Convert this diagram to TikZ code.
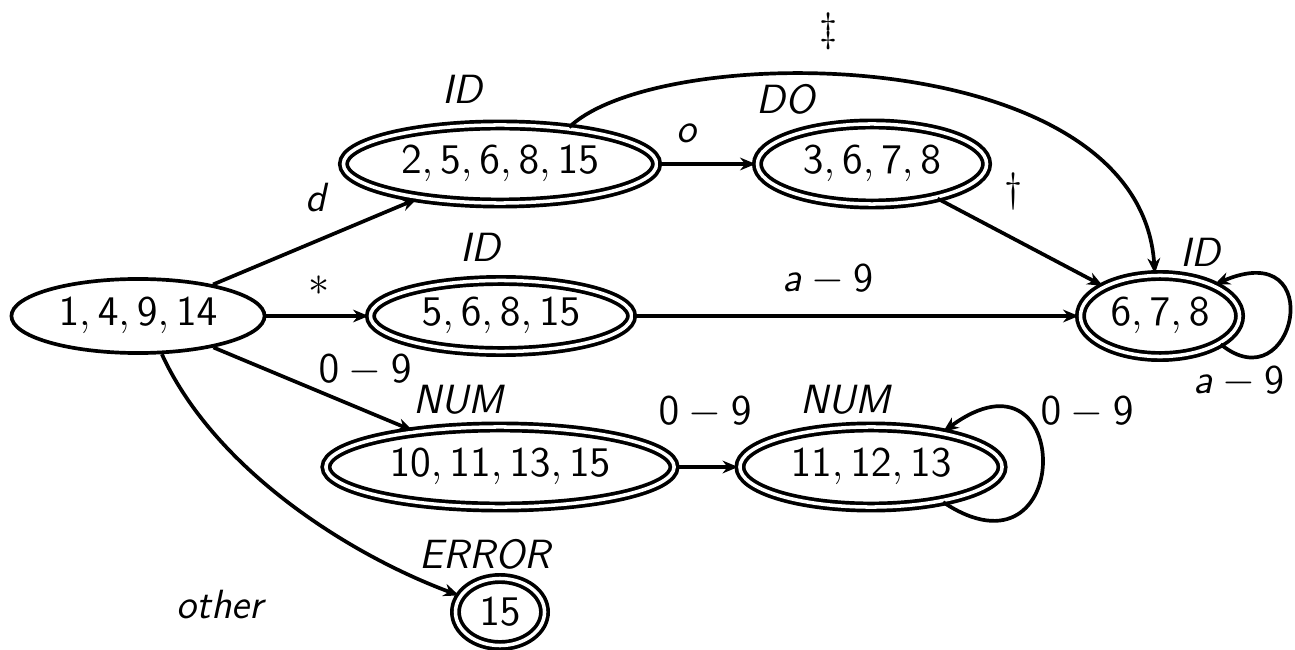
\documentclass[tikz,border=0pt]{standalone}
\usetikzlibrary{shapes.geometric,arrows.meta}
\begin{document}
\begin{tikzpicture}[x=0.01cm,y=-0.01cm,
  every node/.style={font=\fontsize{11.6}{13.9}\selectfont\sffamily},
  state/.style={ellipse,draw,line width=1.05pt,inner sep=0pt},
  accepting/.style={state,double,double distance=1pt},
  tag/.style={font=\fontsize{11.6}{13.9}\selectfont\sffamily\itshape,inner sep=0pt},
  lbl/.style={inner sep=0pt},
  edge/.style={line width=1.05pt,-{Stealth[length=4.4pt,width=3.6pt,inset=1.4pt]}}]
\useasboundingbox (0,0) rectangle (1295,649);

% states
\node[state,minimum width=2.53cm,minimum height=0.74cm] (s0) at (138,316) {$\mathsf{1,4,9,14}$};
\node[accepting,minimum width=3.13cm,minimum height=0.78cm] (sid1) at (500,164) {$\mathsf{2,5,6,8,15}$};
\node[accepting,minimum width=2.29cm,minimum height=0.80cm] (sdo) at (872,164) {$\mathsf{3,6,7,8}$};
\node[accepting,minimum width=2.61cm,minimum height=0.71cm] (sid2) at (501,316) {$\mathsf{5,6,8,15}$};
\node[accepting,minimum width=1.59cm,minimum height=0.81cm] (sid3) at (1160,316) {$\mathsf{6,7,8}$};
\node[accepting,minimum width=3.48cm,minimum height=0.80cm] (snum1) at (500,467) {$\mathsf{10,11,13,15}$};
\node[accepting,minimum width=2.62cm,minimum height=0.80cm] (snum2) at (871,467) {$\mathsf{11,12,13}$};
\node[accepting,minimum width=0.89cm,minimum height=0.67cm] (serr) at (500,612) {$\mathsf{15}$};

% token names above the accepting states
\node[tag] (tid1) at (462,89) {ID};
\node[tag] (tdo) at (786,99) {DO};
\node[tag] (tid2) at (480,247) {ID};
\node[tag] (tid3) at (1200,252) {ID};
\node[tag] (tnum1) at (458,400) {NUM};
\node[tag] (tnum2) at (845,400) {NUM};
\node[tag] (terr) at (485,554) {ERROR};

% transitions
\draw[edge] (s0) -- (sid1);
\draw[edge] (s0) -- (sid2);
\draw[edge] (s0) -- (snum1);
\draw[edge] (s0.-58) .. controls (215,470) and (350,555) .. (serr.158);
\draw[edge] (sid1) -- (sdo);
\draw[edge] (sdo) -- (sid3);
\draw[edge] (sid2) -- (sid3);
\draw[edge] (snum1) -- (snum2);
\draw[edge] (sid1.28) .. controls (660,40) and (1140,40) .. (sid3.97);
\draw[edge] (sid3.-25) .. controls (1295,405) and (1330,235) .. (sid3.30);
\draw[edge] (snum2.-26) .. controls (1075,590) and (1075,335) .. (snum2.26);

% transition labels
\node[tag] (ld) at (316,198) {d};
\node[lbl] (lstar) at (319,286) {$*$};
\node[lbl] (l09a) at (365,370) {$\mathsf{0}-\mathsf{9}$};
\node[tag] (lother) at (220,605) {other};
\node[tag] (lo) at (686,133) {o};
\node[lbl] (ldag) at (1014,192) {\textdagger};
\node[lbl] (lddag) at (829,31) {\textdaggerdbl};
\node[lbl] (la9a) at (828,279) {\textsf{\itshape a}${}-{}$\textsf{9}};
\node[lbl] (la9b) at (1239,381) {\textsf{\itshape a}${}-{}$\textsf{9}};
\node[lbl] (l09b) at (705,412) {$\mathsf{0}-\mathsf{9}$};
\node[lbl] (l09c) at (1087,412) {$\mathsf{0}-\mathsf{9}$};
\end{tikzpicture}
\end{document}
